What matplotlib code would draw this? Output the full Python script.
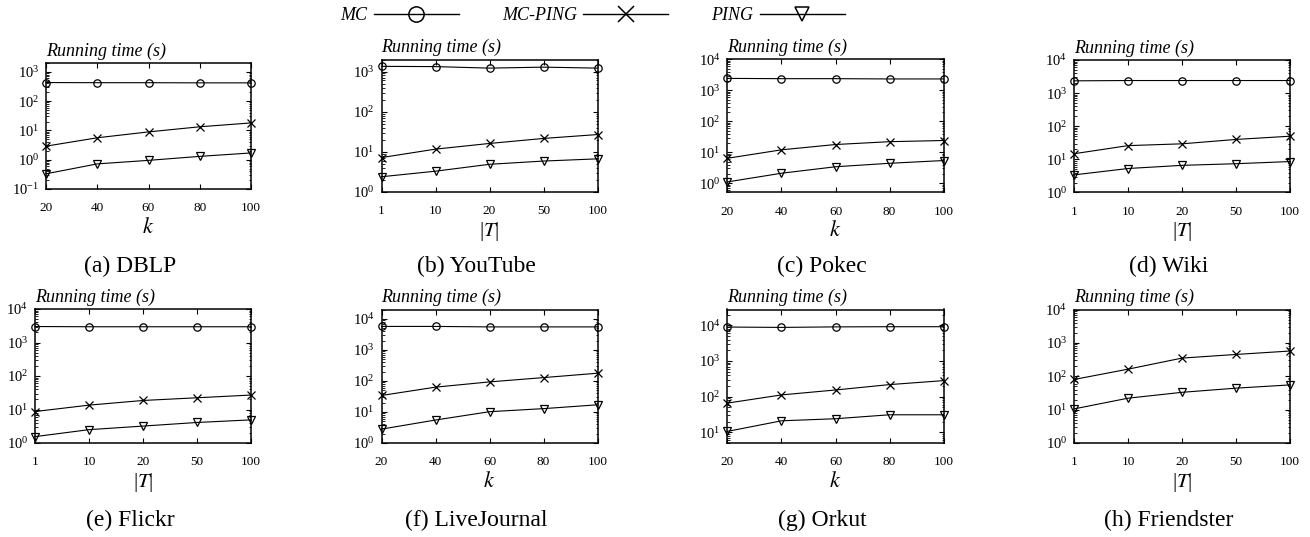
import matplotlib
matplotlib.use('Agg')
import matplotlib.pyplot as plt
from matplotlib.lines import Line2D
from matplotlib.ticker import LogLocator, NullFormatter

plt.rcParams['font.family'] = ['Liberation Serif', 'DejaVu Serif']
plt.rcParams['mathtext.fontset'] = 'stix'

k_vals = [20, 40, 60, 80, 100]
t_vals = [1, 10, 20, 50, 100]

# running time (s)
dblp_mc = [430, 425, 425, 420, 420]
dblp_mcping = [2.9, 5.6, 8.9, 13.3, 18]
dblp_ping = [0.33, 0.72, 0.95, 1.3, 1.7]

youtube_mc = [1350, 1330, 1220, 1290, 1220]
youtube_mcping = [7.2, 11.7, 16.2, 21.6, 27]
youtube_ping = [2.4, 3.3, 4.9, 5.9, 6.7]

pokec_mc = [2450, 2400, 2400, 2350, 2350]
pokec_mcping = [6.4, 12, 17.8, 22, 24]
pokec_ping = [1.1, 2.1, 3.4, 4.4, 5.4]

wiki_mc = [2350, 2400, 2400, 2400, 2400]
wiki_mcping = [14.8, 26, 29.5, 40, 50]
wiki_ping = [3.4, 5.3, 6.6, 7.4, 8.6]

flickr_mc = [3000, 2950, 2950, 2950, 2950]
flickr_mcping = [8.7, 13.5, 18.6, 22.4, 27]
flickr_ping = [1.55, 2.5, 3.2, 4.1, 4.9]

lj_mc = [5700, 5700, 5500, 5500, 5500]
lj_mcping = [34, 63, 93, 128, 177]
lj_ping = [2.8, 5.5, 10.2, 12.8, 17]

orkut_mc = [9000, 8800, 9100, 9200, 9200]
orkut_mcping = [66, 112, 154, 218, 282]
orkut_ping = [10.6, 21, 24, 31, 31]

friendster_mc = None  # not reported
friendster_mcping = [80, 163, 350, 450, 570]
friendster_ping = [10.5, 22, 33, 44, 55]

W, H = 1310, 537
fig = plt.figure(figsize=(W / 100, H / 100), dpi=100)

# (caption, x ticks, x label, mc, mcping, ping, ylim, box in px: l, r, t, b)
panels = [
    ('(a) DBLP', k_vals, 'k', dblp_mc, dblp_mcping, dblp_ping, (0.1, 2000), (46, 251, 63, 189)),
    ('(b) YouTube', t_vals, 'T', youtube_mc, youtube_mcping, youtube_ping, (1, 2000), (381.5, 597.5, 59.5, 192)),
    ('(c) Pokec', k_vals, 'k', pokec_mc, pokec_mcping, pokec_ping, (0.5, 1e4), (727.5, 943.5, 59.5, 192.5)),
    ('(d) Wiki', t_vals, 'T', wiki_mc, wiki_mcping, wiki_ping, (1, 1e4), (1074, 1290, 60, 192.5)),
    ('(e) Flickr', t_vals, 'T', flickr_mc, flickr_mcping, flickr_ping, (1, 1e4), (35, 251, 309, 443)),
    ('(f) LiveJournal', k_vals, 'k', lj_mc, lj_mcping, lj_ping, (1, 2e4), (381.5, 597.5, 309.5, 443)),
    ('(g) Orkut', k_vals, 'k', orkut_mc, orkut_mcping, orkut_ping, (5, 28000), (727.5, 943.5, 309.5, 443)),
    ('(h) Friendster', t_vals, 'T', friendster_mc, friendster_mcping, friendster_ping, (1, 1e4), (1074, 1290, 309.5, 443)),
]
cap_x = [130, 476, 822, 1169]
cap_y = [266, 520]

for i, (cap, xt, xl, mc, mcp, ping, yl, box) in enumerate(panels):
    l, r, t, b = box
    ax = fig.add_axes([l / W, 1 - b / H, (r - l) / W, (b - t) / H])
    xs = range(len(xt))
    if mc is not None:
        ax.plot(xs, mc, color='black', lw=0.8, marker='o', ms=5.3, mfc='none', mew=0.9, clip_on=False)
    ax.plot(xs, mcp, color='black', lw=0.8, marker='x', ms=6, mew=0.9, clip_on=False)
    ax.plot(xs, ping, color='black', lw=0.8, marker='v', ms=5.3, mfc='none', mew=0.9, clip_on=False)
    ax.set_yscale('log')
    ax.set_ylim(*yl)
    ax.set_xlim(0, len(xt) - 1)
    ax.set_xticks(list(xs))
    ax.set_xticklabels([str(v) for v in xt])
    ax.yaxis.set_major_locator(LogLocator(base=10, numticks=10))
    ax.yaxis.set_minor_locator(LogLocator(base=10, subs=range(2, 10), numticks=20))
    ax.yaxis.set_minor_formatter(NullFormatter())
    ax.tick_params(which='both', direction='in', top=True, right=True)
    ax.tick_params(axis='x', labelsize=9.5, pad=9.5)
    ax.tick_params(axis='y', labelsize=10.5, pad=5)
    ax.tick_params(which='major', length=3.5, width=0.8)
    ax.tick_params(which='minor', length=1.8, width=0.6)
    for s in ax.spines.values():
        s.set_linewidth(1.1)
    if xl == 'k':
        ax.set_xlabel('$k$', fontsize=16)
    else:
        ax.set_xlabel('|$T$|', fontsize=15)
    ax.xaxis.set_label_coords(0.5, -39 / (b - t))
    ax.xaxis.label.set_va('center')
    ax.annotate('Running time (s)', xy=(0, 1), xycoords='axes fraction',
                xytext=(0, 8.6), textcoords='offset points',
                ha='left', va='center', fontsize=13, style='italic')
    fig.text(cap_x[i % 4] / W, 1 - cap_y[i // 4] / H, cap, ha='center', va='center', fontsize=17)

handles = [
    Line2D([], [], color='black', lw=1.0, marker='o', ms=11, mfc='none', mew=1.1),
    Line2D([], [], color='black', lw=1.0, marker='x', ms=12, mew=1.1),
    Line2D([], [], color='black', lw=1.0, marker='v', ms=10, mfc='none', mew=1.1),
]
fig.legend(handles, ['MC', 'MC-PING', 'PING'], loc='center', bbox_to_anchor=(592.5 / W, 1 - 16 / H),
           ncol=3, frameon=False, markerfirst=False, numpoints=1, handlelength=4.7,
           handletextpad=0.35, columnspacing=2.4, prop={'style': 'italic', 'size': 13})

fig.savefig('out.png', dpi=100)
